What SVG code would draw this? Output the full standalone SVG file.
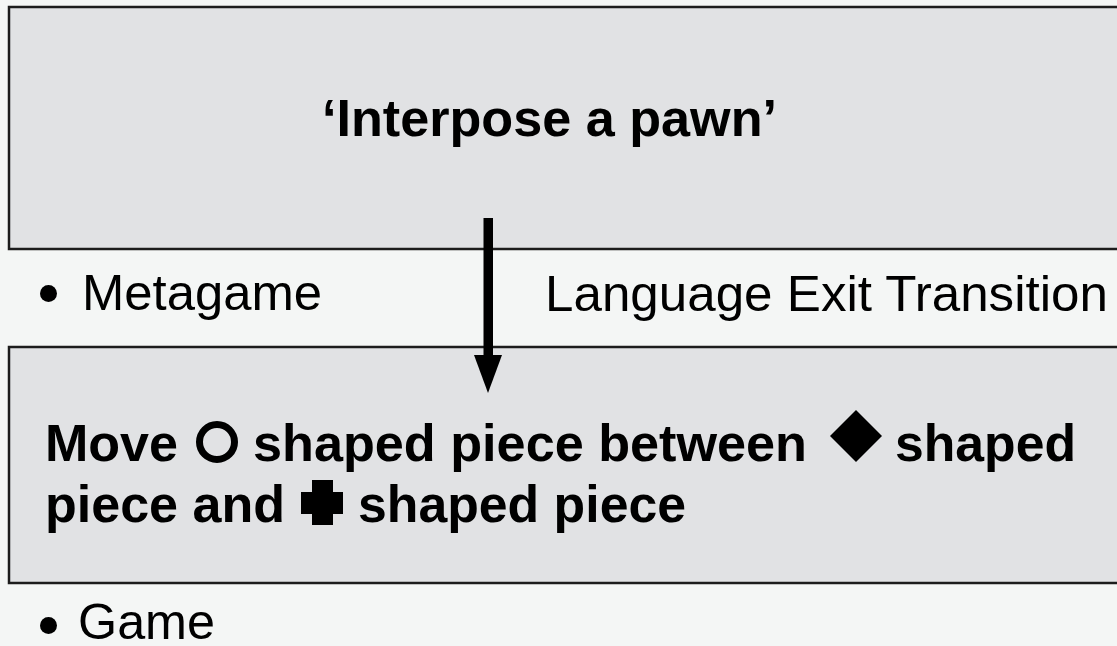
<svg xmlns="http://www.w3.org/2000/svg" width="1117" height="646" viewBox="0 0 1117 646">
<style>
.box{fill:#e1e2e4;stroke:#1c1c1c;stroke-width:2.5}
.b{font-family:"Liberation Sans",Arial,sans-serif;font-weight:bold;font-size:52px;fill:#000}
.r{font-family:"Liberation Sans",Arial,sans-serif;font-size:50px;fill:#000}
</style>
<rect x="0" y="0" width="1117" height="646" fill="#f4f6f5"/>
<g id="metagame-box">
<rect class="box" x="9" y="7" width="1130" height="242"/>
<text class="b" x="322" y="136" textLength="455" lengthAdjust="spacingAndGlyphs">‘Interpose a pawn’</text>
</g>
<g id="metagame-label">
<circle cx="48.5" cy="293.5" r="8.5" fill="#000"/>
<text class="r" x="82" y="310" textLength="240" lengthAdjust="spacingAndGlyphs">Metagame</text>
</g>
<g id="transition-label">
<text class="r" x="545" y="311" textLength="563" lengthAdjust="spacingAndGlyphs">Language Exit Transition</text>
</g>
<g id="game-box">
<rect class="box" x="9" y="347" width="1130" height="236"/>
<text class="b" x="45" y="461" textLength="133" lengthAdjust="spacingAndGlyphs">Move</text>
<circle cx="217" cy="442" r="17.5" fill="none" stroke="#000" stroke-width="7"/>
<text class="b" x="253" y="461" textLength="554" lengthAdjust="spacingAndGlyphs">shaped piece between</text>
<polygon points="856,410 882,436 856,462 830,436" fill="#000"/>
<text class="b" x="895" y="461" textLength="181" lengthAdjust="spacingAndGlyphs">shaped</text>
<text class="b" x="45" y="522" textLength="240" lengthAdjust="spacingAndGlyphs">piece and</text>
<path d="M312,480 H333 V492 H343 V514 H333 V525 H312 V514 H301 V492 H312 Z" fill="#000"/>
<text class="b" x="358" y="522" textLength="328" lengthAdjust="spacingAndGlyphs">shaped piece</text>
</g>
<g id="game-label">
<circle cx="48.5" cy="625.5" r="8.5" fill="#000"/>
<text class="r" x="78" y="639" textLength="137" lengthAdjust="spacingAndGlyphs">Game</text>
</g>
<g id="connectors">
<rect x="483.5" y="218" width="9.5" height="140" fill="#000"/>
<polygon points="474,355 502,355 488,393" fill="#000"/>
</g>
</svg>
